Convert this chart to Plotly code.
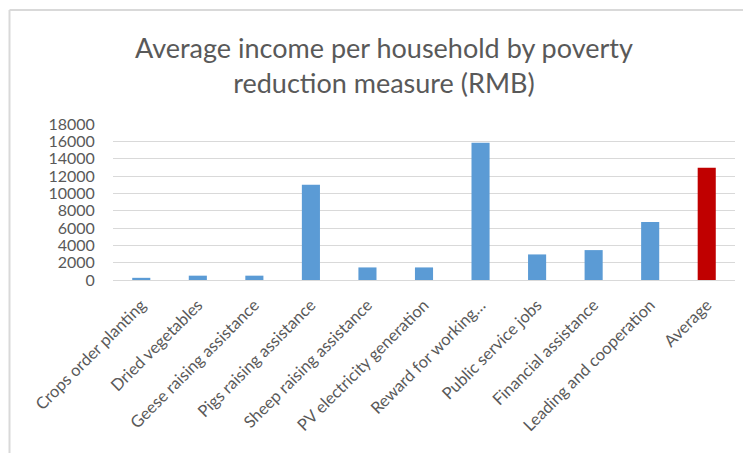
import plotly.graph_objects as go

# Poverty reduction measures and average household income (RMB)
measures = [
    "Crops order planting",
    "Dried vegetables",
    "Geese raising assistance",
    "Pigs raising assistance",
    "Sheep raising assistance",
    "PV electricity generation",
    "Reward for working…",
    "Public service jobs",
    "Financial assistance",
    "Leading and cooperation",
    "Average",
]
income = [250, 500, 500, 11000, 1450, 1450, 15850, 2950, 3450, 6700, 12950]
y_ticks = [0, 2000, 4000, 6000, 8000, 10000, 12000, 14000, 16000, 18000]

BLUE = "#5b9bd5"
RED = "#c00000"
TEXT = "#595959"
GRID = "#d9d9d9"

colors = [RED if m == "Average" else BLUE for m in measures]

W, H = 743, 453
L, R, T, B = 113, 8, 124, 173
plot_w = W - L - R
plot_h = H - T - B


def px_x(px):
    return (px - L) / plot_w


def px_y(py):
    return (H - B - py) / plot_h


fig = go.Figure(
    go.Bar(
        x=measures,
        y=income,
        marker=dict(color=colors, line=dict(width=0)),
        hoverinfo="x+y",
    )
)

fig.update_layout(
    width=W,
    height=H,
    margin=dict(l=L, r=R, t=T, b=B),
    paper_bgcolor="white",
    plot_bgcolor="white",
    bargap=0.68,
    showlegend=False,
    font=dict(family="Lato", color=TEXT),
    xaxis=dict(
        tickangle=-45,
        tickfont=dict(size=16.5, color=TEXT, family="Lato"),
        showgrid=False,
        showline=True,
        linecolor=GRID,
        linewidth=1,
        ticks="outside",
        ticklen=8,
        tickcolor="rgba(0,0,0,0)",
    ),
    yaxis=dict(
        range=[0, 18000],
        tickvals=y_ticks,
        ticktext=[str(v) for v in y_ticks],
        tickfont=dict(size=16, color=TEXT, family="Lato"),
        showgrid=True,
        gridcolor=GRID,
        gridwidth=1,
        zeroline=False,
        showline=False,
        ticks="outside",
        ticklen=14,
        tickcolor="rgba(0,0,0,0)",
    ),
    annotations=[
        dict(
            text="Average income per household by poverty<br>reduction measure (RMB)",
            xref="paper",
            yref="paper",
            x=px_x(384),
            y=px_y(29),
            xanchor="center",
            yanchor="top",
            showarrow=False,
            align="center",
            font=dict(size=27, color=TEXT, family="Lato"),
        )
    ],
    shapes=[
        # chart frame (top and left edges visible)
        dict(
            type="line", xref="paper", yref="paper",
            x0=px_x(9.5), x1=px_x(745), y0=px_y(10), y1=px_y(10),
            line=dict(color=GRID, width=2),
        ),
        dict(
            type="line", xref="paper", yref="paper",
            x0=px_x(9.5), x1=px_x(9.5), y0=px_y(10), y1=px_y(455),
            line=dict(color=GRID, width=2),
        ),
    ],
)

fig.write_html("out.html")
